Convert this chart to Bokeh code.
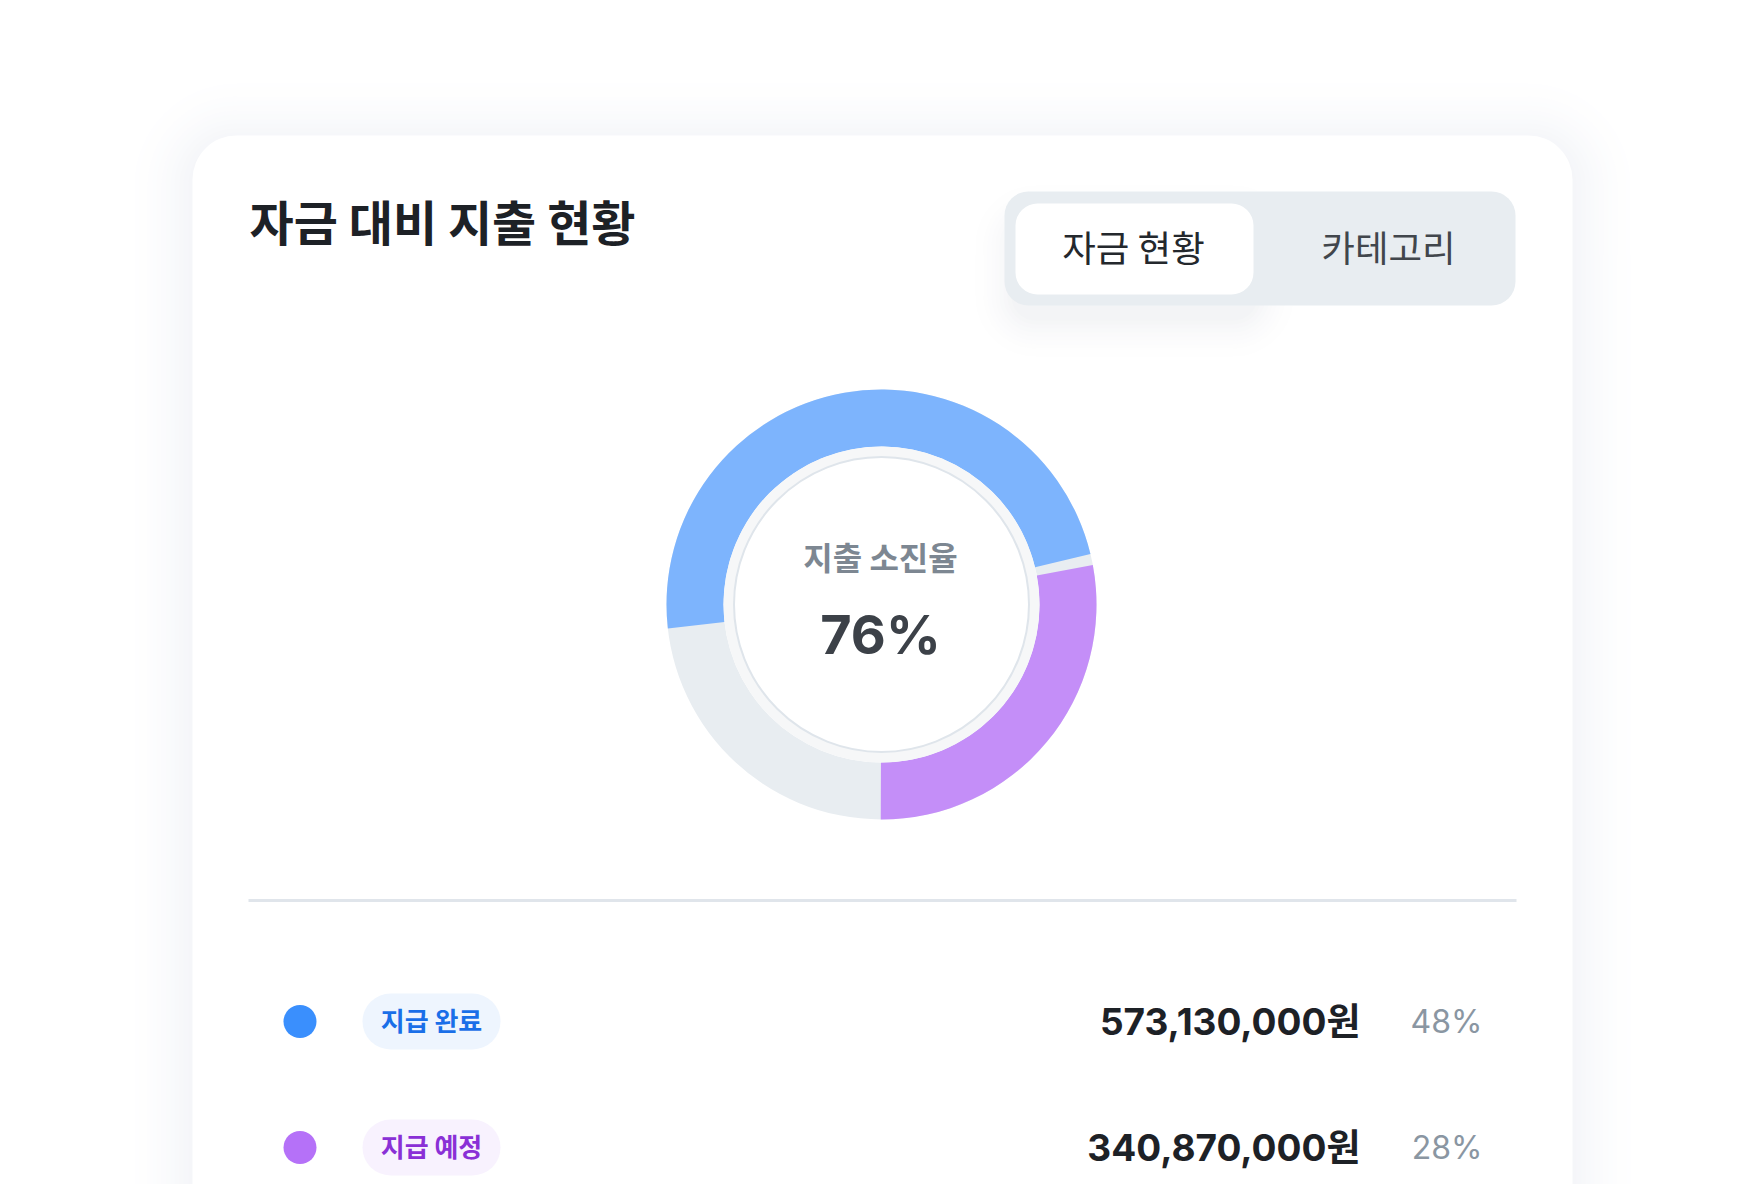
import math
from bokeh.plotting import figure
from bokeh.models import Range1d
from bokeh.core.properties import value
from bokeh.embed import file_html
from bokeh.resources import INLINE

# ---------------- data ----------------
title_text = "자금 대비 지출 현황"
tab_labels = ["자금 현황", "카테고리"]
center_caption = "지출 소진율"
categories = ["지급 완료", "지급 예정"]
amounts = [573130000, 340870000]
shares = [48, 28]          # percent of total funds

# ---------------- styles ----------------
KR = "Noto Sans CJK KR"
NUM = "Inter, Noto Sans CJK KR"
ring_colors = ["#7db4fd", "#c48ef8"]
dot_colors = ["#3a8ffd", "#b571f8"]
pill_fill = ["#eef5fe", "#f8f2fe"]
pill_text = ["#1a6fe8", "#8a30d6"]
ring_bg = "#e8edf1"


def shade(t, deep=(244, 245, 248)):
    # t in [0,1]: 0 -> white, 1 -> deep
    return "#%02x%02x%02x" % tuple(round(255 + (d - 255) * t) for d in deep)


W, H = 1745, 1184
p = figure(width=W, height=H, output_backend="svg", toolbar_location=None,
           x_range=Range1d(0, W), y_range=Range1d(-H, 0),
           x_axis_location=None, y_axis_location=None, min_border=0,
           tools="")
p.grid.visible = False
p.outline_line_color = None
p.background_fill_color = "white"
p.border_fill_color = "white"


def Y(v):
    return -v


# ---------------- card shadow + card ----------------
cl, cr, ct, cb = 192, 1572, 135, 1320
n_sh = 16
for i in range(n_sh, 0, -1):
    s = int(i * 4.5)
    t = (1 - (i - 1) / n_sh) ** 2
    p.quad(left=[cl - s], right=[cr + s], top=[Y(ct - s + 6)], bottom=[Y(cb + s)],
           fill_color=shade(t, (245, 246, 249)), line_color=None,
           border_radius=int(44 + s))
p.quad(left=[cl], right=[cr], top=[Y(ct)], bottom=[Y(cb)], fill_color="white",
       line_color=None, border_radius=44)

# ---------------- title ----------------
p.text(x=[249], y=[Y(219)], text=[title_text], text_font=value(KR),
       text_font_size="48px", text_font_style="bold", text_color="#1d2126",
       text_align="left", text_baseline="middle")

# ---------------- toggle ----------------
bl, br, bt, bb = 1015, 1253, 203, 294
n_tg = 12
for i in range(n_tg, 0, -1):
    s = i * 4
    t = (1 - (i - 1) / n_tg) ** 2
    p.quad(left=[bl - s], right=[br + s], top=[Y(bt + 22 - s)], bottom=[Y(bb + 22 + s)],
           fill_color=shade(t, (243, 244, 246)), line_color=None,
           border_radius=int(20 + s))
p.quad(left=[1004], right=[1515], top=[Y(191)], bottom=[Y(305)], fill_color="#e8edf1",
       line_color=None, border_radius=24)
p.quad(left=[bl], right=[br], top=[Y(bt)], bottom=[Y(bb)], fill_color="white",
       line_color=None, border_radius=22)
p.text(x=[1133, 1388], y=[Y(246), Y(246)], text=tab_labels, text_font=value(KR),
       text_font_size="36.5px", text_color=["#24282d", "#41464c"],
       text_align="center", text_baseline="middle")

# ---------------- donut ----------------
cx, cy = 881, 604
r_out, r_in = 215, 158
start_deg = 186.4
pad_deg = 3.0
p.annulus(x=[cx], y=[Y(cy)], inner_radius=r_in, outer_radius=r_out,
          fill_color=ring_bg, line_color=None)
starts, ends = [], []
a = start_deg
for k, s in enumerate(shares):
    span = s / 100 * 360
    starts.append(math.radians(a))
    ends.append(math.radians(a - span))
    a = a - span - pad_deg
p.annular_wedge(x=[cx] * len(shares), y=[Y(cy)] * len(shares), inner_radius=r_in,
                outer_radius=r_out, start_angle=starts, end_angle=ends,
                direction="clock", fill_color=ring_colors, line_color=None)
p.circle(x=[cx], y=[Y(cy)], radius=r_in, fill_color="#f6f7f8", line_color=None)
p.circle(x=[cx], y=[Y(cy)], radius=147.5, fill_color="white", line_color="#dfe5eb",
         line_width=2)
p.text(x=[cx - 1], y=[Y(555)], text=[center_caption], text_font=value(KR),
       text_font_size="32px", text_font_style="bold", text_color="#7d8792",
       text_align="center", text_baseline="middle")
p.text(x=[cx - 1], y=[Y(634)], text=[f"{sum(shares)}%"], text_font=value(NUM),
       text_font_size="54px", text_font_style="bold", text_color="#3c4148",
       text_align="center", text_baseline="middle")

# ---------------- separator ----------------
p.segment(x0=[248], y0=[Y(900)], x1=[1516], y1=[Y(900)], line_color="#e0e5eb",
          line_width=3)

# ---------------- legend rows ----------------
row_y = [1021, 1147]
p.circle(x=[299.5] * 2, y=[Y(v) for v in row_y], radius=16.5, fill_color=dot_colors,
         line_color=None)
p.quad(left=[362] * 2, right=[500] * 2, top=[Y(v - 28) for v in row_y],
       bottom=[Y(v + 28) for v in row_y], fill_color=pill_fill, line_color=None,
       border_radius=28)
p.text(x=[431] * 2, y=[Y(v - 2) for v in row_y], text=categories, text_font=value(KR),
       text_font_size="26px", text_font_style="bold", text_color=pill_text,
       text_align="center", text_baseline="middle")
p.text(x=[1360] * 2, y=[Y(v) for v in row_y], text=[f"{a:,}원" for a in amounts],
       text_font=value(NUM), text_font_size="37px", text_font_style="bold",
       text_color="#1d2126", text_align="right", text_baseline="middle")
p.text(x=[1482] * 2, y=[Y(v) for v in row_y], text=[f"{s}%" for s in shares],
       text_font=value(NUM), text_font_size="32px", text_color="#8a96a2",
       text_align="right", text_baseline="middle")

open("out.html", "w").write(file_html(p, INLINE))
